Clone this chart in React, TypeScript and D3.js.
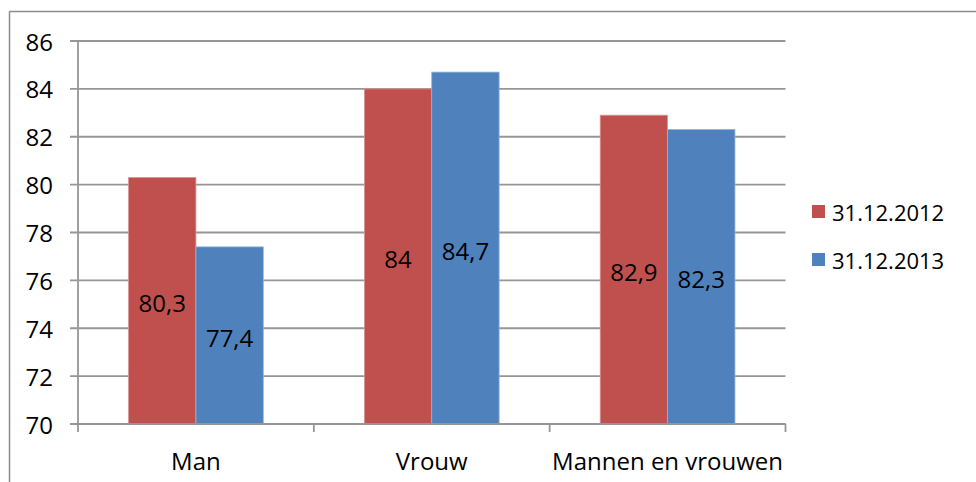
import React from "react";
import * as d3 from "d3";

const categories = ["Man", "Vrouw", "Mannen en vrouwen"];
const seriesNames = ["31.12.2012", "31.12.2013"];
const values2012 = [80.3, 84, 82.9];
const values2013 = [77.4, 84.7, 82.3];
const yTicks = [70, 72, 74, 76, 78, 80, 82, 84, 86];
const colors = ["#C0504D", "#4F81BD"];
const strokes = ["#D99694", "#95B3D7"];

const W = 976;
const H = 482;
const FONT = "'Open Sans', 'Noto Sans', sans-serif";

export default function App() {
  const left = 78;
  const right = 785.5;
  const top = 41;
  const bottom = 424;

  const x = d3
    .scaleBand<string>()
    .domain(categories)
    .range([left, right])
    .paddingInner(1.5 / 3.5)
    .paddingOuter(0.75 / 3.5);
  const xSeries = d3
    .scaleBand<number>()
    .domain([0, 1])
    .range([0, x.bandwidth()]);
  const y = d3.scaleLinear().domain([70, 86]).range([bottom, top]);
  const step = x.step();
  const boundaries = d3.range(categories.length + 1).map((i) => left + i * step);
  const series = [values2012, values2013];
  const fmt = (v: number) => String(v).replace(".", ",");

  return (
    <svg
      width={W}
      height={H}
      style={{ position: "absolute", left: 0, top: 0, background: "#fff" }}
      fontFamily={FONT}
    >
      <rect x={0} y={0} width={W} height={H} fill="#fff" />
      {/* outer chart border */}
      <line x1={9.5} y1={11.5} x2={W + 5} y2={11.5} stroke="#8a8a8a" strokeWidth={1.5} />
      <line x1={9.5} y1={11.5} x2={9.5} y2={H + 5} stroke="#8a8a8a" strokeWidth={1.5} />

      {/* gridlines + y ticks */}
      {yTicks.map((t) => (
        <g key={t}>
          <line
            x1={left - 8}
            x2={right}
            y1={y(t)}
            y2={y(t)}
            stroke="#969696"
            strokeWidth={1.8}
          />
          <text
            x={53}
            y={y(t)}
            textAnchor="end"
            dominantBaseline="central"
            fontSize={24}
            fill="#000"
          >
            {t}
          </text>
        </g>
      ))}

      {/* bars */}
      {categories.map((c, i) =>
        series.map((s, j) => {
          const bx = (x(c) as number) + (xSeries(j) as number);
          const bw = xSeries.bandwidth();
          const by = y(s[i]);
          return (
            <g key={c + j}>
              <rect
                x={bx}
                y={by}
                width={bw}
                height={y(70) - by}
                fill={colors[j]}
                stroke={strokes[j]}
                strokeWidth={0.8}
              />
              <text
                x={bx + bw / 2}
                y={(by + y(70)) / 2 + 2}
                textAnchor="middle"
                dominantBaseline="central"
                fontSize={24}
                fill="#000"
              >
                {fmt(s[i])}
              </text>
            </g>
          );
        })
      )}

      {/* y axis */}
      <line x1={left} x2={left} y1={top} y2={bottom} stroke="#969696" strokeWidth={1.8} />
      {/* x axis */}
      <line x1={left - 8} x2={right} y1={bottom} y2={bottom} stroke="#969696" strokeWidth={1.8} />
      {boundaries.map((bx, i) => (
        <line
          key={i}
          x1={bx}
          x2={bx}
          y1={bottom}
          y2={bottom + 8}
          stroke="#969696"
          strokeWidth={1.8}
        />
      ))}
      {categories.map((c) => (
        <text
          key={c}
          x={(x(c) as number) + x.bandwidth() / 2}
          y={460}
          textAnchor="middle"
          dominantBaseline="central"
          fontSize={24}
          fill="#000"
        >
          {c}
        </text>
      ))}

      {/* legend */}
      {seriesNames.map((n, j) => (
        <g key={n}>
          <rect x={812} y={205 + j * 48} width={13} height={13} fill={colors[j]} />
          <text
            x={832}
            y={211.5 + j * 48}
            dominantBaseline="central"
            fontSize={22}
            fill="#000"
          >
            {n}
          </text>
        </g>
      ))}
    </svg>
  );
}
